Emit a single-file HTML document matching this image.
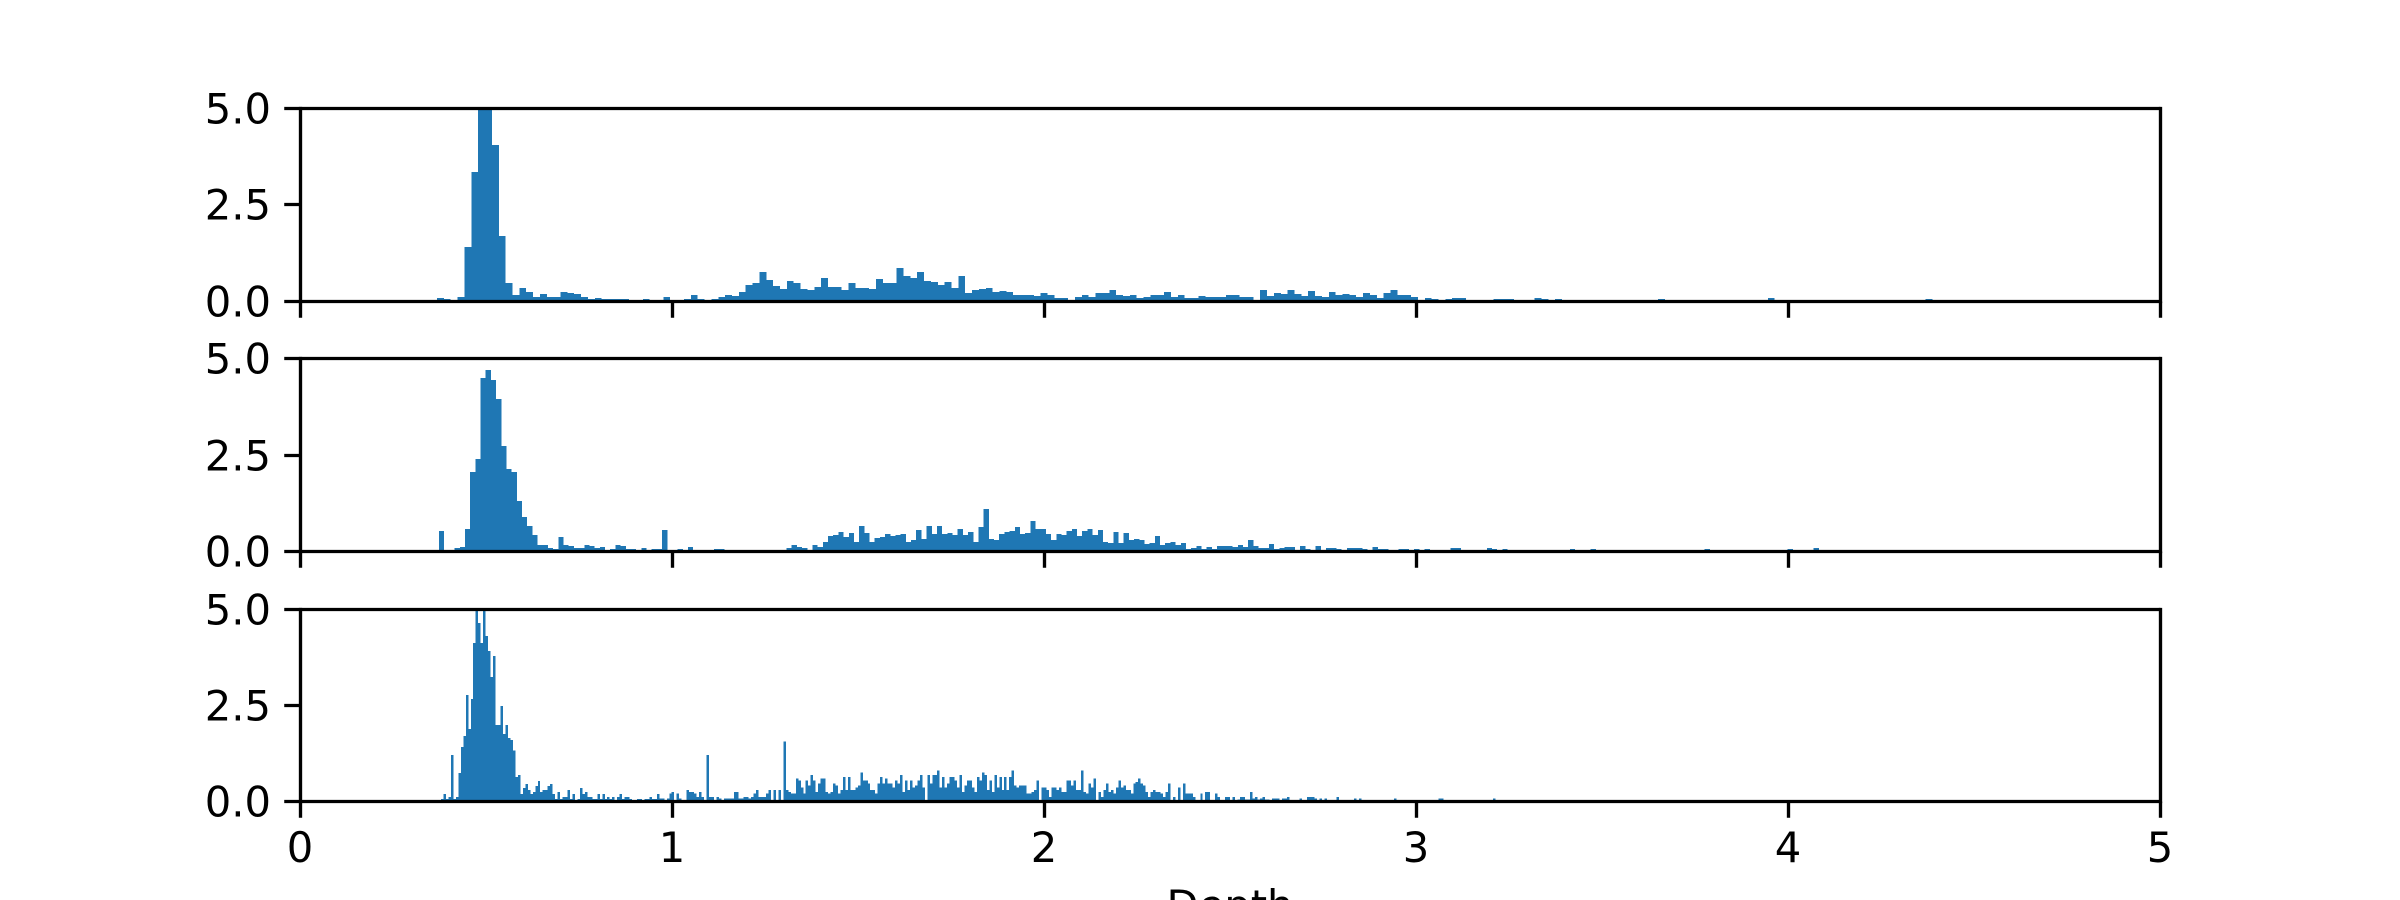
<!DOCTYPE html>
<html lang="en">
<head>
<meta charset="utf-8">
<title>Depth histograms</title>
<style>
html,body{margin:0;padding:0;background:#fff;width:2400px;height:900px;overflow:hidden}
svg{display:block}
text{font-family:"DejaVu Sans",sans-serif;font-size:41.67px;fill:#000}
</style>
</head>
<body>
<svg id="chart" xmlns="http://www.w3.org/2000/svg" width="2400" height="900" viewBox="0 0 2400 900"></svg>
<script>
const xTickValues = [0, 1, 2, 3, 4, 5];
const xTickLabels = ["0", "1", "2", "3", "4", "5"];
const yTickValues = [0, 2.5, 5];
const yTickLabels = ["0.0", "2.5", "5.0"];
const xAxisTitle = "Depth";
const xDomain = [0, 5];
const yDomain = [0, 5];

const topBinStart = 0.3683;
const topBinWidth = 0.01844;
const topValues = [
.065,.04,0,.09,1.39,3.34,5.4,5.2,4.04,1.68,
.455,.14,.325,.22,.09,.17,.09,.09,.22,.195,
.17,.09,.04,.065,.04,.04,.04,.04,0,0,
.04,0,0,.09,0,0,.04,.14,.04,.01,
.04,.09,.14,.12,.22,.40,.455,.74,.53,.377,
.30,.506,.455,.30,.27,.35,.584,.35,.35,.27,
.455,.325,.325,.30,.558,.455,.455,.844,.636,.584,
.74,.506,.48,.40,.48,.325,.636,.195,.27,.30,
.325,.22,.247,.22,.14,.14,.14,.12,.195,.14,
.065,.065,.01,.09,.14,.09,.195,.195,.27,.14,
.12,.14,.065,.09,.14,.14,.22,.09,.14,.065,
.065,.12,.09,.09,.09,.14,.14,.09,.09,0,
.27,.12,.195,.17,.27,.17,.12,.247,.12,.09,
.22,.14,.17,.14,.09,.195,.14,.065,.195,.27,
.14,.14,.09,0,.065,.04,0,.04,.065,.065,
0,0,0,0,.04,.04,.04,0,0,0,
.065,.04,0,.04,0,0,0,0,0,0,
0,0,0,0,0,0,0,0,.04,0,
0,0,0,0,0,0,0,0,0,0,
0,0,0,0,.065,0,0,0,0,0,
0,0,0,0,0,0,0,0,0,0,
0,0,0,0,0,0,0,.04
];

const middleBinStart = 0.3737;
const middleBinWidth = 0.013944;
const middleValues = [
.513,0,0,.07,.097,.565,2.045,2.383,4.487,4.695,
4.435,3.94,2.72,2.123,2.045,1.292,.877,.643,.41,.15,
.15,.07,.045,.357,.15,.123,.07,.07,.15,.123,
.07,.097,0,.045,.15,.123,.045,.045,0,.07,
0,.045,.045,.54,0,0,.045,0,.097,0,
0,0,0,.045,.045,0,0,0,0,0,
0,0,0,0,0,0,0,.07,.15,.097,
.07,0,.15,.097,.227,.383,.41,.487,.357,.46,
.227,.643,.46,.227,.33,.357,.435,.383,.41,.435,
.227,.28,.54,.305,.643,.435,.643,.435,.46,.41,
.565,.41,.487,.227,.617,1.084,.305,.28,.435,.487,
.513,.617,.435,.46,.773,.565,.565,.435,.28,.435,
.41,.513,.565,.383,.513,.565,.41,.54,.227,.205,
.487,.205,.46,.28,.305,.28,.175,.205,.383,.15,
.205,.227,.15,.205,.045,.07,.123,.045,.097,.045,
.123,.123,.123,.097,.15,.097,.28,.123,.07,.07,
.175,.045,.07,.097,.097,0,.123,.045,0,.123,
0,.07,.07,.045,0,.07,.07,.07,.045,0,
.097,.045,.045,0,0,.045,.045,0,.045,0,
.045,0,0,0,0,.07,.07,0,0,0,
0,0,.07,.045,0,.045,0,0,0,0,
0,0,0,0,0,0,0,0,.045,0,
0,0,.045,0,0,0,0,0,0,0,
0,0,0,0,0,0,0,0,0,0,
0,0,0,0,.04,0,0,0,0,0,
0,0,0,0,0,0,0,0,0,0,
.04,0,0,0,0,.07
];

const bottomBinStart = 0.379;
const bottomBinWidth = 0.00667;
const bottomValues = [
.05,.18,.05,.10,1.19,.05,.10,.73,1.40,1.69,
2.75,1.87,2.65,4.10,5.2,4.62,4.10,5.2,4.29,3.90,
3.22,3.77,1.97,1.97,2.47,1.74,1.97,1.64,1.58,1.31,
.62,.68,.18,.34,.44,.29,.18,.23,.39,.52,
.23,.29,.29,.39,.44,.18,.05,.23,.05,.10,
.10,.29,.05,.18,0,.05,.34,.18,.23,.10,
.10,.05,.05,.18,.05,.18,.05,.10,.05,.10,
0,.10,.18,.05,.10,.10,.05,0,0,.05,
.05,0,.05,.05,.10,.05,.05,.18,.06,.06,
0,.06,.19,.24,0,.19,.06,0,0,.29,
.24,.24,.19,.11,.24,.11,0,1.2,.11,.11,
0,.11,.06,0,.06,.06,.06,.06,.24,.24,
.06,.06,.11,.11,.06,.11,.19,.29,.11,.11,
.11,.19,.29,0,.29,0,.29,0,1.54,.29,
.24,.19,.19,.58,.53,.35,.19,.53,.40,.68,
.53,.24,.45,.58,.58,.24,.19,.24,.45,.40,
.19,.29,.63,.29,.63,.29,.29,.35,.40,.74,
.53,.53,.45,.29,.29,.19,.45,.63,.45,.58,
.45,.45,.35,.53,.45,.68,.24,.53,.29,.53,
.35,.40,.53,.68,.35,0,.68,.45,.68,.68,
.79,.35,.63,.35,.45,.63,.63,.53,.35,.68,
.24,.40,.53,.53,.35,.24,.63,.53,.74,.68,
.29,.53,.24,.68,.35,.63,.29,.63,.29,.63,
.79,.40,.35,.40,.40,.40,.19,.19,.24,.29,
.53,0,.35,.35,.29,.11,.35,.35,.29,.35,
.24,.24,.53,.53,.40,.53,.29,.29,.79,.24,
.19,.45,.35,.58,0,.24,.11,.29,.45,.24,
.29,.19,.35,.53,.35,.40,.29,.29,.19,.45,
.50,.58,.45,.40,.24,.11,.24,.29,.24,.24,
.19,.11,.24,.45,0,.11,0,.35,0,.45,
.19,.19,.19,.11,0,0,.19,0,.24,.24,
0,0,.19,.11,0,0,.11,.11,0,.11,
0,.04,.11,.11,.04,.04,.24,.06,.11,.04,
.06,.11,.04,.04,.03,.06,.06,.06,0,.06,
.06,.11,0,0,0,0,.06,0,0,.11,
.11,.11,.06,0,.06,0,.06,0,0,0,
0,.11,0,0,0,0,0,0,.06,0,
.06,0,0,0,0,0,0,0,0,0,
0,0,0,0,.06,0,0,0,0,0,
0,0,0,0,0,0,0,0,0,0,
0,0,.06,.06,0,0,0,0,0,0,
0,0,0,0,0,0,0,0,0,0,
0,0,0,0,.06
];

const svgNS = "http://www.w3.org/2000/svg";
const chart = document.getElementById("chart");
const axLeft = 300, axRight = 2160, tickLen = 14.6, spineW = 3.33;
const barColor = "#1f77b4";

function xScale(v) { return axLeft + (v - xDomain[0]) / (xDomain[1] - xDomain[0]) * (axRight - axLeft); }
function makeYScale(top, bottom) {
  return function (v) { return bottom - (v - yDomain[0]) / (yDomain[1] - yDomain[0]) * (bottom - top); };
}
function snap(p) { return Math.round(p) + 0.5; }
function make(tag, parent) {
  const n = document.createElementNS(svgNS, tag);
  parent.appendChild(n);
  return n;
}
function drawLine(parent, x1, y1, x2, y2, name) {
  const l = make("line", parent);
  l.setAttribute("x1", x1);
  l.setAttribute("y1", y1);
  l.setAttribute("x2", x2);
  l.setAttribute("y2", y2);
  l.setAttribute("stroke", "#000");
  l.setAttribute("stroke-width", spineW);
  l.setAttribute("stroke-linecap", "butt");
  
  
  return l;
}
function drawPanel(id, top, bottom, binStart, binWidth, values, showXLabels) {
  const yScale = makeYScale(top, bottom);
  const g = make("g", chart);
  
  

  const clip = make("clipPath", g);
  clip.setAttribute("id", "clip-" + id);
  const clipRect = make("rect", clip);
  clipRect.setAttribute("x", axLeft);
  clipRect.setAttribute("y", top);
  clipRect.setAttribute("width", axRight - axLeft);
  clipRect.setAttribute("height", bottom - top);

  const bars = make("g", g);
  bars.setAttribute("clip-path", "url(#clip-" + id + ")");
  bars.setAttribute("shape-rendering", "crispEdges");
  bars.setAttribute("fill", barColor);
  
  
  values.forEach(function (v, i) {
    const x0 = xScale(binStart + i * binWidth);
    const x1 = xScale(binStart + (i + 1) * binWidth);
    const yT = yScale(v);
    const r = make("rect", bars);
    r.setAttribute("x", x0.toFixed(2));
    r.setAttribute("y", yT.toFixed(2));
    r.setAttribute("width", (x1 - x0).toFixed(2));
    r.setAttribute("height", (yScale(0) - yT).toFixed(2));
    
    
  });

  const sTop = snap(top), sBottom = snap(bottom), sLeft = snap(axLeft), sRight = snap(axRight);
  drawLine(g, sLeft, sTop - spineW / 2, sLeft, sBottom + spineW / 2, id + "-left-spine");
  drawLine(g, sRight, sTop - spineW / 2, sRight, sBottom + spineW / 2, id + "-right-spine");
  drawLine(g, sLeft, sTop, sRight, sTop, id + "-top-spine");
  drawLine(g, sLeft, sBottom, sRight, sBottom, id + "-bottom-spine");

  xTickValues.forEach(function (v, i) {
    const x = snap(xScale(v));
    drawLine(g, x, sBottom, x, sBottom + tickLen + spineW / 2, id + "-x-tick");
    if (showXLabels) {
      const t = make("text", g);
      t.setAttribute("x", xScale(v));
      t.setAttribute("y", 862);
      t.setAttribute("text-anchor", "middle");
      
      
      t.textContent = xTickLabels[i];
    }
  });
  yTickValues.forEach(function (v, i) {
    const y = snap(yScale(v));
    drawLine(g, sLeft - tickLen - spineW / 2, y, sLeft, y, id + "-y-tick");
    const t = make("text", g);
    t.setAttribute("x", 271);
    t.setAttribute("y", y + 15);
    t.setAttribute("text-anchor", "end");
    
    
    t.textContent = yTickLabels[i];
  });
}

drawPanel("top", 108, 300.5, topBinStart, topBinWidth, topValues, false);
drawPanel("middle", 358.25, 550.75, middleBinStart, middleBinWidth, middleValues, false);
drawPanel("bottom", 608.5, 801, bottomBinStart, bottomBinWidth, bottomValues, true);

const title = make("text", chart);
title.setAttribute("x", 1230);
title.setAttribute("y", 920);
title.setAttribute("text-anchor", "middle");


title.textContent = xAxisTitle;
</script>
</body>
</html>
